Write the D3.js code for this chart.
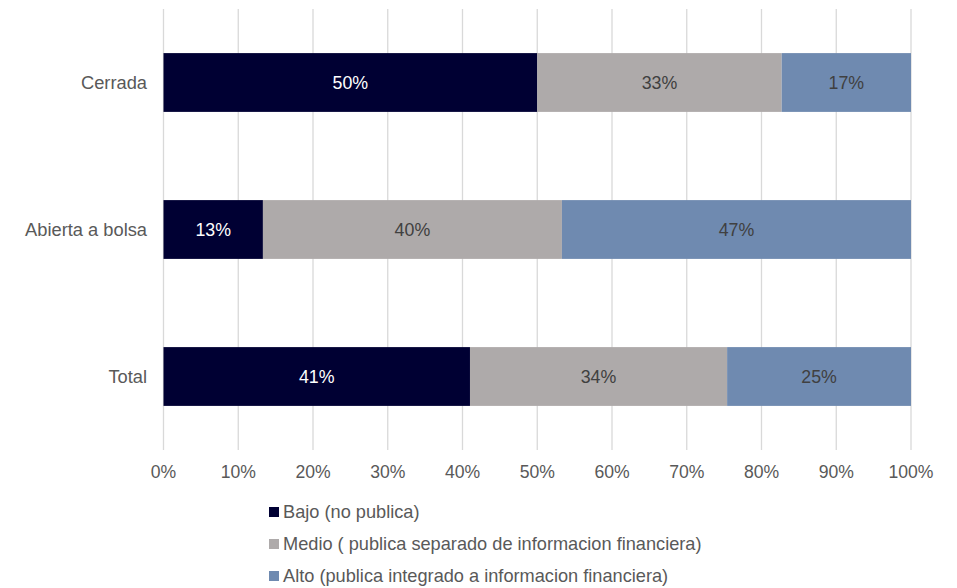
<!DOCTYPE html>
<html><head><meta charset="utf-8">
<script src="https://cdn.jsdelivr.net/npm/d3@7"></script>
<style>body{margin:0;background:#fff;} svg{display:block;font-family:"Liberation Sans",Arial,sans-serif;}</style>
</head><body>
<svg id="c" width="957" height="588"></svg>
<script>
const categories = ["Cerrada", "Abierta a bolsa", "Total"];
const seriesNames = ["Bajo (no publica)", "Medio ( publica separado de informacion financiera)", "Alto (publica integrado a informacion financiera)"];
const bajo  = [50, 13.3, 41];
const medio = [32.7, 40, 34.4];
const alto  = [17.3, 46.7, 24.6];
const barLabels = [["50%","33%","17%"],["13%","40%","47%"],["41%","34%","25%"]];
const tickValues = [0,10,20,30,40,50,60,70,80,90,100];
const colors = ["#000033", "#AEAAAA", "#6F8AB0"];
const labelColors = ["#ffffff", "#404040", "#404040"];

const svg = d3.select("#c");
const x = d3.scaleLinear().domain([0,100]).range([163.5, 911]);
const y = d3.scaleBand().domain(categories).range([9, 450]).paddingInner(0.6).paddingOuter(0.3);

// gridlines
svg.append("g").selectAll("line").data(tickValues).join("line")
  .attr("x1", d=>x(d)).attr("x2", d=>x(d)).attr("y1", 9).attr("y2", 450)
  .attr("stroke", "#d9d9d9").attr("stroke-width", 1.3);

// x tick labels
svg.append("g").selectAll("text").data(tickValues).join("text")
  .attr("x", d=>x(d)).attr("y", 478).attr("text-anchor","middle")
  .attr("font-size", "17.6px").attr("fill", "#595959").text(d=>d+"%");

// category labels
svg.append("g").selectAll("text").data(categories).join("text")
  .attr("x", 147).attr("y", d=>y(d)+y.bandwidth()/2).attr("dy","0.35em")
  .attr("text-anchor","end").attr("font-size","18.3px").attr("fill","#595959").text(d=>d);

const series = [bajo, medio, alto];
const rows = categories.map((c,i)=>{
  let acc = 0;
  return series.map((s,j)=>{ const r = {cat:c, j, x0:acc, x1:acc+s[i], label:barLabels[i][j]}; acc += s[i]; return r; });
}).flat();

svg.append("g").selectAll("rect").data(rows).join("rect")
  .attr("x", d=>x(d.x0)).attr("width", d=>x(d.x1)-x(d.x0))
  .attr("y", d=>y(d.cat)).attr("height", y.bandwidth())
  .attr("fill", d=>colors[d.j]);

svg.append("g").selectAll("text").data(rows).join("text")
  .attr("x", d=>(x(d.x0)+x(d.x1))/2).attr("y", d=>y(d.cat)+y.bandwidth()/2).attr("dy","0.35em")
  .attr("text-anchor","middle").attr("font-size","17.8px").attr("fill", d=>labelColors[d.j]).text(d=>d.label);

// legend
const lg = svg.append("g").selectAll("g").data(seriesNames).join("g")
  .attr("transform", (d,i)=>`translate(269,${512+i*32})`);
lg.append("rect").attr("x",0).attr("y",-5).attr("width",10).attr("height",10).attr("fill",(d,i)=>colors[i]);
lg.append("text").attr("x",14).attr("y",0).attr("dy","0.35em").attr("font-size","18.2px").attr("fill","#595959").text(d=>d);
</script>
</body></html>
